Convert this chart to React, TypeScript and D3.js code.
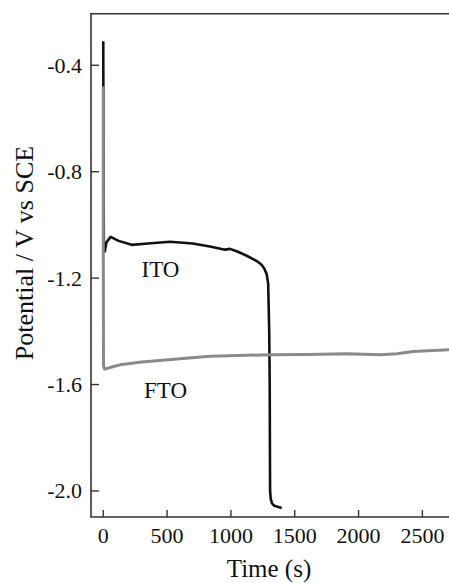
import React from 'react';
import * as d3 from 'd3';

// chronopotentiometry curves
const itoTime = [0, 3, 5, 12, 25, 58, 120, 223, 350, 523, 700, 836, 954, 993, 1050, 1124, 1200, 1240, 1262, 1280, 1292, 1300, 1304, 1306, 1307, 1312, 1322, 1340, 1398];
const itoPot = [-0.31, -0.9, -1.1, -1.1, -1.065, -1.045, -1.06, -1.075, -1.07, -1.063, -1.07, -1.081, -1.093, -1.09, -1.1, -1.116, -1.135, -1.15, -1.165, -1.185, -1.22, -1.4, -1.6, -1.9, -2.0, -2.03, -2.047, -2.056, -2.064];

const ftoTime = [0, 0, 2, 10, 27, 60, 131, 300, 601, 836, 1306, 1600, 1907, 2168, 2300, 2427, 2709];
const ftoPot = [-0.48, -1.0, -1.53, -1.542, -1.54, -1.535, -1.526, -1.515, -1.503, -1.494, -1.488, -1.487, -1.484, -1.488, -1.484, -1.476, -1.469];

const xTicks = [0, 500, 1000, 1500, 2000, 2500];
const yTicks = [-2.0, -1.6, -1.2, -0.8, -0.4];
const yTickLabels = ['-2.0', '-1.6', '-1.2', '-0.8', '-0.4'];

const width = 449;
const height = 583;
const left = 91, right = 449.2, top = 13.7, bottom = 517;

export default function App() {
  const x = d3.scaleLinear([-96, 2710], [left, right]);
  const y = d3.scaleLinear([-2.098, -0.206], [bottom, top]);
  const line = d3.line<[number, number]>().x(d => x(d[0])).y(d => y(d[1]));

  const ito = itoTime.map((t, i) => [t, itoPot[i]] as [number, number]);
  const fto = ftoTime.map((t, i) => [t, ftoPot[i]] as [number, number]);

  const font = '"Liberation Serif", "Times New Roman", serif';

  return (
    <div style={{ position: 'absolute', left: 0, top: 0 }}>
      <svg width={width} height={height} style={{ display: 'block', background: '#fff' }} fontFamily={font}>
        <path d={line(ito) ?? ''} fill="none" stroke="#111" strokeWidth={2.6} strokeLinejoin="round" />
        <path d={line(fto) ?? ''} fill="none" stroke="#8a8a8a" strokeWidth={3} strokeLinejoin="round" />

        {/* frame: left, bottom, top (right side is cut off) */}
        <path d={`M${right},${top}H${left}V${bottom}H${right}`} fill="none" stroke="#333" strokeWidth={1.6} />

        {yTicks.map((v, i) => (
          <g key={v}>
            <line x1={left} x2={left + 8} y1={y(v)} y2={y(v)} stroke="#333" strokeWidth={1.4} />
            <text x={82} y={y(v) + 7.5} textAnchor="end" fontSize={22} fill="#111">{yTickLabels[i]}</text>
          </g>
        ))}
        {xTicks.map(v => (
          <g key={v}>
            <line x1={x(v)} x2={x(v)} y1={bottom} y2={bottom - 7} stroke="#333" strokeWidth={1.4} />
            <text x={x(v)} y={542.5} textAnchor="middle" fontSize={22} fill="#111">{v}</text>
          </g>
        ))}

        <text x={269} y={577} textAnchor="middle" fontSize={25} fill="#111">Time (s)</text>
        <text transform="translate(33,253) rotate(-90)" textAnchor="middle" fontSize={26} fill="#111">Potential / V vs SCE</text>

        <text x={141.5} y={276.5} fontSize={23} fill="#111">ITO</text>
        <text x={144} y={398} fontSize={23} fill="#111">FTO</text>
      </svg>
    </div>
  );
}
